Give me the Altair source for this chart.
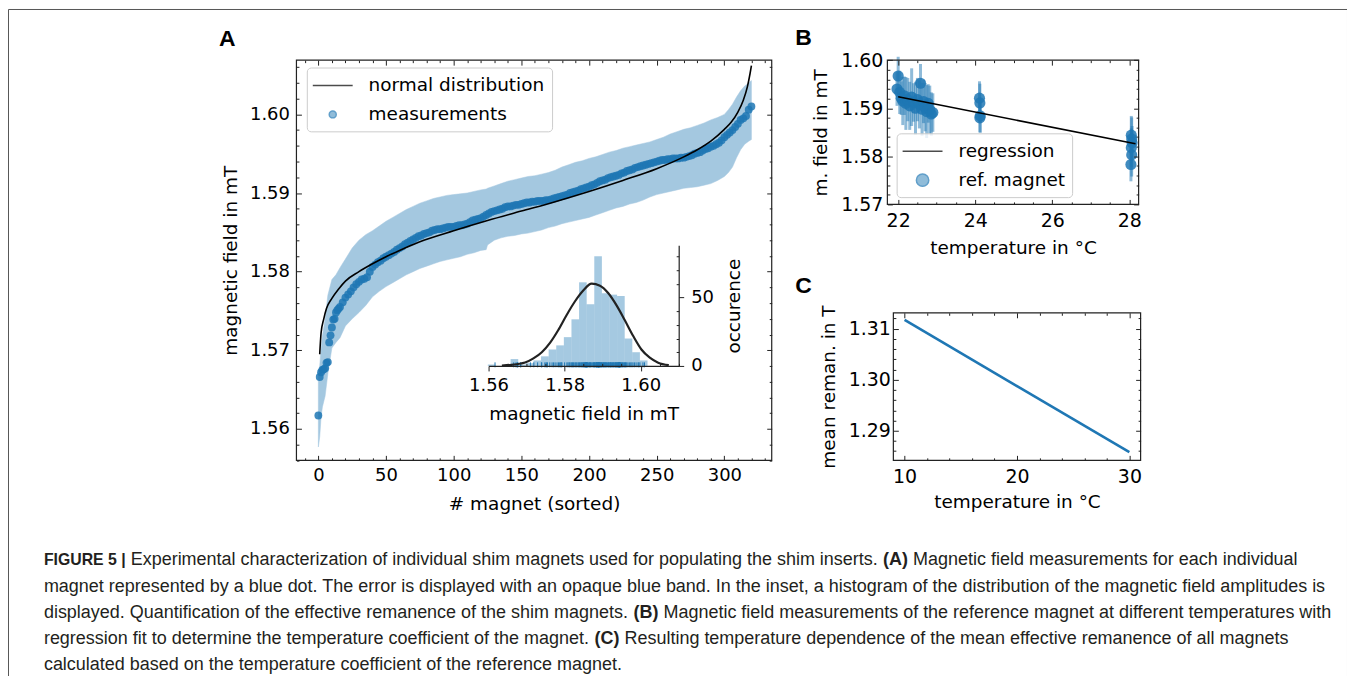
import altair as alt
import pandas as pd

W, H = 1343, 670
BLUE = "#1f77b4"
INK = "#222222"
FONT = "DejaVu Sans"

# ---------------- Panel A: sorted magnet measurements ----------------
a_index = list(range(0, 17)) + list(range(18, 321, 2))
a_field = [1.5617, 1.5666, 1.5672, 1.5675, 1.5676, 1.5677, 1.5684, 1.5685, 1.5710, 1.5719,
           1.5729, 1.5739, 1.5740, 1.5748, 1.5751, 1.5753, 1.5755,
           1.5761, 1.5767, 1.5771, 1.5775, 1.5780, 1.5784, 1.5787, 1.5790, 1.5791, 1.5793,
           1.5800, 1.5806, 1.5809, 1.5812, 1.5814, 1.5817, 1.5819, 1.5821, 1.5823, 1.5825,
           1.5828, 1.5830, 1.5832, 1.5835, 1.5837, 1.5839, 1.5841, 1.5843, 1.5845, 1.5846,
           1.5848, 1.5849, 1.5850, 1.5852, 1.5853, 1.5854, 1.5854, 1.5855, 1.5856, 1.5857,
           1.5857, 1.5857,
           1.5858, 1.5859, 1.5859, 1.5860, 1.5861, 1.5863, 1.5865, 1.5866, 1.5867, 1.5868,
           1.5870, 1.5872, 1.5874, 1.5876, 1.5877, 1.5878, 1.5879, 1.5880, 1.5882, 1.5883,
           1.5883, 1.5884, 1.5885, 1.5885, 1.5886, 1.5887, 1.5888, 1.5888, 1.5889, 1.5889,
           1.5890, 1.5890, 1.5890, 1.5891, 1.5891, 1.5892, 1.5893, 1.5894, 1.5895, 1.5896,
           1.5897, 1.5898, 1.5900, 1.5901, 1.5902, 1.5903, 1.5905, 1.5906, 1.5907, 1.5908,
           1.5910, 1.5911, 1.5913, 1.5915, 1.5916, 1.5917, 1.5919, 1.5920, 1.5921, 1.5922,
           1.5923, 1.5925, 1.5926, 1.5928, 1.5929, 1.5930, 1.5932, 1.5933, 1.5934, 1.5935,
           1.5936, 1.5937, 1.5938, 1.5939, 1.5940, 1.5941, 1.5942, 1.5942, 1.5943, 1.5943,
           1.5944, 1.5944, 1.5944, 1.5945, 1.5945, 1.5946, 1.5947, 1.5948, 1.5950, 1.5951,
           1.5952, 1.5954, 1.5956, 1.5957, 1.5959, 1.5960, 1.5962, 1.5964, 1.5967, 1.5971,
           1.5974, 1.5977, 1.5980, 1.5984, 1.5988, 1.5993, 1.5995, 1.5998, 1.6006, 1.6010]

band_index = [0, 1, 2, 3, 5, 7, 10, 13, 16, 20, 25, 30, 35, 40, 45, 50, 55, 60, 65, 70, 75, 80,
              85, 90, 95, 100, 105, 110, 115, 120, 124, 125, 130, 135, 140, 145, 150, 155, 160,
              165, 170, 175, 180, 185, 190, 195, 200, 205, 210, 215, 220, 225, 230, 235, 240,
              245, 250, 255, 260, 265, 270, 275, 280, 285, 290, 295, 300, 303, 306, 309, 312,
              315, 318, 320]
band_low = [1.5577, 1.5590, 1.5615, 1.5628, 1.5642, 1.5670, 1.5703, 1.5710, 1.5716,
            1.5731, 1.5740, 1.5748, 1.5757, 1.5768, 1.5775, 1.5781, 1.5786, 1.5791, 1.5796,
            1.5800, 1.5804, 1.5807, 1.5810, 1.5813, 1.5815, 1.5817, 1.5819, 1.5822, 1.5824,
            1.5827, 1.5828,
            1.5834, 1.5840, 1.5843, 1.5845, 1.5846, 1.5848, 1.5849, 1.5851, 1.5853, 1.5856,
            1.5858, 1.5861, 1.5863, 1.5865, 1.5867, 1.5869, 1.5872, 1.5875, 1.5878, 1.5881,
            1.5883, 1.5886, 1.5888, 1.5891, 1.5895, 1.5898, 1.5900, 1.5902, 1.5904, 1.5906,
            1.5907, 1.5908, 1.5910, 1.5912, 1.5916, 1.5921,
            1.5926, 1.5933, 1.5945, 1.5955, 1.5962, 1.5966, 1.5968]
band_high = [1.5672, 1.5680, 1.5702, 1.5718, 1.5740, 1.5770, 1.5790, 1.5796, 1.5805,
             1.5816, 1.5830, 1.5840, 1.5847, 1.5852, 1.5858, 1.5864, 1.5869, 1.5874, 1.5879,
             1.5883, 1.5887, 1.5890, 1.5893, 1.5895, 1.5897, 1.5898, 1.5899, 1.5900, 1.5902,
             1.5904, 1.5905,
             1.5906, 1.5909, 1.5912, 1.5915, 1.5917, 1.5919, 1.5921, 1.5922, 1.5924, 1.5926,
             1.5929, 1.5933, 1.5936, 1.5939, 1.5941, 1.5944, 1.5946, 1.5949, 1.5952, 1.5954,
             1.5957, 1.5959, 1.5961, 1.5963, 1.5965, 1.5968, 1.5971, 1.5975, 1.5978, 1.5981,
             1.5983, 1.5986, 1.5989, 1.5993, 1.5996, 1.6000,
             1.6006, 1.6013, 1.6022, 1.6030, 1.6036, 1.6040, 1.6043]

norm_index = [1, 2, 4, 6, 10, 15, 20, 30, 40, 50, 60, 75, 100, 125, 150, 175, 200, 225, 250,
              270, 280, 290, 300, 305, 310, 314, 317, 319, 320]
norm_field = [1.5695, 1.5722, 1.5740, 1.5753, 1.5766, 1.5778, 1.5788, 1.5800, 1.5810, 1.5819,
              1.5827, 1.5838, 1.5852, 1.5865, 1.5877, 1.5889, 1.5902, 1.5916, 1.5931, 1.5946,
              1.5955, 1.5966, 1.5981, 1.5990, 1.6003, 1.6018, 1.6035, 1.6052, 1.6062]

# inset histogram
hist_start = [1.5598, 1.5658, 1.5678, 1.5698, 1.5718, 1.5738, 1.5758, 1.5778, 1.5798, 1.5818,
              1.5838, 1.5858, 1.5878, 1.5898, 1.5918, 1.5938, 1.5958, 1.5978, 1.5998]
hist_count = [1, 5, 1, 2, 4, 7, 12, 15, 21, 34, 61, 45, 80, 53, 52, 51, 20, 10, 4]
HIST_BIN = 0.002
gauss_field = [1.5635, 1.5660, 1.5685, 1.5696, 1.5718, 1.5740, 1.5762, 1.5783, 1.5805, 1.5827,
               1.5849, 1.5871, 1.5893, 1.5915, 1.5937, 1.5958, 1.5980, 1.6002, 1.6024, 1.6046,
               1.6074]
gauss_occ = [0.3, 0.8, 1.8, 2.5, 5.5, 10, 17, 26, 37, 47, 55, 60, 58.5, 53, 44, 33.5, 22, 12,
             6, 2.4, 0.6]

# ---------------- Panel B: reference magnet ----------------
b_temp = [21.97, 22.00, 22.04, 22.08, 22.12, 22.16, 22.20, 22.25, 22.30, 22.35, 22.40, 22.45,
          22.50, 22.55, 22.58, 22.62, 22.66, 22.70, 22.74, 22.78, 22.82, 22.86, 22.90,
          24.11, 24.12, 24.13, 24.12, 28.05, 28.06, 28.07, 28.05, 28.06, 28.04]
b_field = [1.5940, 1.5967, 1.5933, 1.5921, 1.5915, 1.5926, 1.5910, 1.5918, 1.5905, 1.5923,
           1.5912, 1.5900, 1.5918, 1.5908, 1.5952, 1.5898, 1.5914, 1.5902, 1.5893, 1.5910,
           1.5897, 1.5888, 1.5891, 1.5921, 1.5911, 1.5884, 1.5880, 1.5844, 1.5836, 1.5828,
           1.5818, 1.5803, 1.5783]
b_err = [0.0035, 0.0040, 0.0045, 0.0035, 0.0050, 0.0040, 0.0055, 0.0045, 0.0050, 0.0060,
         0.0040, 0.0055, 0.0045, 0.0050, 0.0040, 0.0055, 0.0045, 0.0050, 0.0055, 0.0040,
         0.0050, 0.0045, 0.0040, 0.0035, 0.0040, 0.0035, 0.0030, 0.0040, 0.0045, 0.0035,
         0.0040, 0.0045, 0.0035]
reg_temp = [22.0, 28.16]
reg_field = [1.5924, 1.5826]

# ---------------- Panel C ----------------
c_temp = [10, 30]
c_reman = [1.3117, 1.2858]

# tick labels
a_xticks = [0, 50, 100, 150, 200, 250, 300]
a_yticks = [1.56, 1.57, 1.58, 1.59, 1.60]
i_xticks = [1.56, 1.58, 1.60]
i_yticks = [0, 50]
b_xticks = [22, 24, 26, 28]
b_yticks = [1.57, 1.58, 1.59, 1.60]
c_xticks = [10, 20, 30]
c_yticks = [1.29, 1.30, 1.31]


def minor(lo, hi, step, majors):
    n = int(round((hi - lo) / step))
    vals = [round(lo + i * step, 4) for i in range(n + 1)]
    return [v for v in vals if all(abs(v - m) > step / 10 for m in majors)]


def sc(dom, rng):
    return alt.Scale(domain=dom, range=rng, zero=False, nice=False)


def ax(orient, offset, values, tick, labels=False, fmt=None, fs=18, lpad=5,
       title=None, tfs=18, tpad=5, domain=False, angle=None, tbase=None):
    kw = dict(orient=orient, offset=offset, values=values, tickSize=tick, ticks=True,
              tickColor=INK, tickWidth=1, domain=domain, domainColor=INK, domainWidth=1.2,
              grid=False, labels=labels, zindex=2, labelFlush=False, labelOverlap=False)
    if labels:
        kw.update(format=fmt, labelFont=FONT, labelFontSize=fs, labelColor="black",
                  labelPadding=lpad)
    if title:
        kw.update(title=title, titleFont=FONT, titleFontSize=tfs, titleFontWeight="normal",
                  titleColor="black", titlePadding=tpad)
        if angle is not None:
            kw["titleAngle"] = angle
        if tbase is not None:
            kw["titleBaseline"] = tbase
    else:
        kw["title"] = None
    return alt.Axis(**kw)


def panel_frame(xdom, ydom, xl, xr, yt, yb, xmaj, xmin, ymaj, ymin, xfmt, yfmt,
                xtitle, ytitle, fs, tfs, xlp, ylp, xtp, ytp):
    sx = sc(xdom, [xl, xr])
    sy = sc(ydom, [yb, yt])
    df = pd.DataFrame({"x0": [xdom[0]], "x1": [xdom[1]], "y0": [ydom[0]], "y1": [ydom[1]]})
    T, t = 5, 2.5
    frame = alt.Chart(df).mark_rect(fillOpacity=0, stroke=INK, strokeWidth=1.2).encode(
        x=alt.X("x0:Q", scale=sx, axis=ax("bottom", (yb - T) - H, xmaj, T, True, xfmt, fs,
                                          xlp, xtitle, tfs, xtp)),
        x2="x1:Q",
        y=alt.Y("y0:Q", scale=sy, axis=ax("left", -(xl + T), ymaj, T, True, yfmt, fs,
                                          ylp, ytitle, tfs, ytp)),
        y2="y1:Q")
    l2 = alt.Chart(df).mark_point(opacity=0).encode(
        x=alt.X("x0:Q", scale=sx, axis=ax("top", -(yt + T), xmaj, T)),
        y=alt.Y("y0:Q", scale=sy, axis=ax("right", (xr - T) - W, ymaj, T)))
    l3 = alt.Chart(df).mark_point(opacity=0).encode(
        x=alt.X("x0:Q", scale=sx, axis=ax("bottom", (yb - t) - H, xmin, t)),
        y=alt.Y("y0:Q", scale=sy, axis=ax("left", -(xl + t), ymin, t)))
    l4 = alt.Chart(df).mark_point(opacity=0).encode(
        x=alt.X("x0:Q", scale=sx, axis=ax("top", -(yt + t), xmin, t)),
        y=alt.Y("y0:Q", scale=sy, axis=ax("right", (xr - t) - W, ymin, t)))
    return sx, sy, [frame, l2, l3, l4]


# ---------- geometry (chart coordinates) ----------
A_X = [-16.2, 335.0]
A_Y = [1.5560, 1.6069]
A_xl, A_xr, A_yt, A_yb = 289.3, 766.0, 51.3, 452.7
sxA, syA, frameA = panel_frame(A_X, A_Y, A_xl, A_xr, A_yt, A_yb, a_xticks,
                               minor(-10, 330, 10, a_xticks), a_yticks,
                               minor(1.556, 1.606, 0.002, a_yticks), "d", ".2f",
                               "# magnet (sorted)", "magnetic field in mT",
                               18, 18.5, 6, 7, 10, 9)

bandA = alt.Chart(pd.DataFrame({"i": band_index, "lo": band_low, "hi": band_high})).mark_area(
    color=BLUE, opacity=0.4, stroke=BLUE, strokeWidth=1, strokeOpacity=0.5).encode(
    x=alt.X("i:Q", scale=sxA, axis=None),
    y=alt.Y("lo:Q", scale=syA, axis=None), y2="hi:Q")
ptsA = alt.Chart(pd.DataFrame({"i": a_index, "v": a_field})).mark_circle(
    color=BLUE, opacity=0.85, size=62).encode(
    x=alt.X("i:Q", scale=sxA, axis=None), y=alt.Y("v:Q", scale=syA, axis=None))
normA = alt.Chart(pd.DataFrame({"i": norm_index, "v": norm_field})).mark_line(
    color="black", strokeWidth=1.6, interpolate="monotone").encode(
    x=alt.X("i:Q", scale=sxA, axis=None), y=alt.Y("v:Q", scale=syA, axis=None))

# inset
I_X = [1.56, 1.61]
I_Y = [0, 88]
I_xl, I_xr, I_yt, I_yb = 482.0, 672.7, 237.0, 358.0
sxI = sc(I_X, [I_xl, I_xr])
syI = sc(I_Y, [I_yb, I_yt])
histI = alt.Chart(pd.DataFrame({"s": hist_start, "c": hist_count})).transform_calculate(
    e="datum.s + %f" % HIST_BIN).mark_rect(color=BLUE, opacity=0.4).encode(
    x=alt.X("s:Q", scale=sxI, axis=None), x2="e:Q",
    y=alt.Y("c:Q", scale=syI, axis=None), y2=alt.Y2(datum=0))
rugI = alt.Chart(pd.DataFrame({"v": a_field})).transform_calculate(
    r0="-1", r1="2.6").mark_rule(color=BLUE, strokeWidth=1).encode(
    x=alt.X("v:Q", scale=sxI, axis=None),
    y=alt.Y("r0:Q", scale=syI, axis=None), y2="r1:Q")
gaussI = alt.Chart(pd.DataFrame({"x": gauss_field, "y": gauss_occ})).mark_line(
    color=INK, strokeWidth=2.2, interpolate="monotone").encode(
    x=alt.X("x:Q", scale=sxI, axis=None), y=alt.Y("y:Q", scale=syI, axis=None))
dI = pd.DataFrame({"x": [1.56], "y": [0]})
inset_ax1 = alt.Chart(dI).mark_point(opacity=0).encode(
    x=alt.X("x:Q", scale=sxI, axis=ax("bottom", I_yb - H, i_xticks, 5, True, ".2f", 18, 6,
                                      "magnetic field in mT", 18.5, 10, domain=True)),
    y=alt.Y("y:Q", scale=syI, axis=ax("right", I_xr - W, i_yticks, 5, True, "d", 18, 7,
                                      "occurence", 18.5, 11, domain=True, angle=270,
                                      tbase="top")))
inset_ax2 = alt.Chart(dI).mark_point(opacity=0).encode(
    x=alt.X("x:Q", scale=sxI, axis=ax("bottom", (I_yb - 2.5) - H,
                                      minor(1.56, 1.61, 0.005, i_xticks), 2.5)),
    y=alt.Y("y:Q", scale=syI, axis=ax("right", (I_xr - 2.5) - W,
                                      minor(0, 80, 10, i_yticks), 2.5)))

# ---------- Panel B ----------
B_X = [21.72, 28.24]
B_Y = [1.57, 1.60]
B_xl, B_xr, B_yt, B_yb = 882.0, 1134.0, 51.3, 196.0
sxB, syB, frameB = panel_frame(B_X, B_Y, B_xl, B_xr, B_yt, B_yb, b_xticks,
                               minor(21.5, 28.5, 0.5, b_xticks), b_yticks,
                               minor(1.57, 1.60, 0.002, b_yticks), "d", ".2f",
                               "temperature in °C", "m. field in mT",
                               19, 18.5, 7, 4.5, 8, 10)
dfB = pd.DataFrame({"t": b_temp, "v": b_field, "e": b_err})
errB = alt.Chart(dfB).transform_calculate(
    lo="datum.v - datum.e", hi="datum.v + datum.e").mark_rule(
    color=BLUE, opacity=0.5, strokeWidth=3).encode(
    x=alt.X("t:Q", scale=sxB, axis=None),
    y=alt.Y("lo:Q", scale=syB, axis=None), y2="hi:Q")
ptsB = alt.Chart(dfB).mark_circle(color=BLUE, opacity=0.85, size=125).encode(
    x=alt.X("t:Q", scale=sxB, axis=None), y=alt.Y("v:Q", scale=syB, axis=None))
regB = alt.Chart(pd.DataFrame({"t": reg_temp, "v": reg_field})).mark_line(
    color="black", strokeWidth=1.6).encode(
    x=alt.X("t:Q", scale=sxB, axis=None), y=alt.Y("v:Q", scale=syB, axis=None))

# ---------- Panel C ----------
C_X = [9.0, 31.0]
C_Y = [1.2842, 1.3131]
C_xl, C_xr, C_yt, C_yb = 888.0, 1136.0, 304.7, 452.7
sxC, syC, frameC = panel_frame(C_X, C_Y, C_xl, C_xr, C_yt, C_yb, c_xticks,
                               minor(8, 32, 2, c_xticks), c_yticks,
                               minor(1.284, 1.314, 0.002, c_yticks), "d", ".2f",
                               "temperature in °C", "mean reman. in T",
                               19, 18.5, 7, 3, 6, 10)
lineC = alt.Chart(pd.DataFrame({"t": c_temp, "r": c_reman})).mark_line(
    color=BLUE, strokeWidth=2.6).encode(
    x=alt.X("t:Q", scale=sxC, axis=None), y=alt.Y("r:Q", scale=syC, axis=None))

# ---------- legends ----------
LINE_PATH = "M-2,0L2,0"


def circ(r):
    return "M-{0},0A{0},{0},0,1,1,{0},0A{0},{0},0,1,1,-{0},0Z".format(r)


def legend_layer(names, colors, paths, lx, ly, fill):
    lg = alt.Legend(orient="none", legendX=lx, legendY=ly, title=None, fillColor=fill,
                    strokeColor="#cccccc", cornerRadius=4, padding=7, labelFont=FONT,
                    labelFontSize=18.5, labelColor="black", labelLimit=400, symbolSize=400,
                    symbolStrokeWidth=1.5, rowPadding=8, labelOffset=25, symbolOffset=8)
    return alt.Chart(pd.DataFrame({"s": names})).mark_point(filled=True, size=400).encode(
        x=alt.value(-60), y=alt.value(-60),
        shape=alt.Shape("s:N", scale=alt.Scale(domain=names, range=paths), legend=lg),
        fill=alt.Fill("s:N", scale=alt.Scale(domain=names, range=colors), legend=lg),
        stroke=alt.Stroke("s:N", scale=alt.Scale(domain=names, range=colors), legend=lg))


legA = legend_layer(["normal distribution", "measurements"], ["black", BLUE],
                    [LINE_PATH, circ(0.35)], 299.7, 58.7, "white")
legB = legend_layer(["regression", "ref. magnet"], ["black", BLUE],
                    [LINE_PATH, circ(0.62)], 891.3, 124.7, "rgba(255,255,255,0.8)")

# ---------- panel letters ----------
letters = alt.Chart(pd.DataFrame({"t": ["A", "B", "C"], "px": [220, 798, 798],
                                  "py": [30, 29.5, 278]})).mark_text(
    font="Liberation Sans", fontWeight="bold", fontSize=23, color="black",
    align="center", baseline="middle").encode(
    x=alt.X("px:Q", scale=None, axis=None), y=alt.Y("py:Q", scale=None, axis=None),
    text="t:N")

# ---------- caption ----------
AR = {' ': 278, '.': 278, ',': 278, '(': 333, ')': 333, '|': 260, '-': 333, '5': 556,
      'A': 667, 'B': 667, 'C': 722, 'D': 722, 'E': 667, 'F': 611, 'G': 778, 'H': 722,
      'I': 278, 'J': 500, 'K': 667, 'L': 556, 'M': 833, 'N': 722, 'O': 778, 'P': 667,
      'Q': 778, 'R': 722, 'S': 667, 'T': 611, 'U': 722, 'V': 667, 'W': 944, 'X': 667,
      'Y': 667, 'Z': 611, 'a': 556, 'b': 556, 'c': 500, 'd': 556, 'e': 556, 'f': 278,
      'g': 556, 'h': 556, 'i': 222, 'j': 222, 'k': 500, 'l': 222, 'm': 833, 'n': 556,
      'o': 556, 'p': 556, 'q': 556, 'r': 333, 's': 500, 't': 278, 'u': 556, 'v': 500,
      'w': 722, 'x': 500, 'y': 500, 'z': 500}
ARB = dict(AR)
ARB.update({'A': 722, 'B': 722, 'C': 722, 'E': 667, 'F': 611, 'G': 778, 'I': 278,
            'R': 722, 'U': 722, '|': 280})


def tw(s, bold=False):
    tab = ARB if bold else AR
    return sum(tab.get(c, 556) for c in s) / 1000.0


# (text, bold, relative size)
cap_lines = [
    [("FIGURE 5 |", True, 0.88),
     (" Experimental characterization of individual shim magnets used for populating the shim inserts. ", False, 1.0),
     ("(A)", True, 1.0), (" Magnetic field measurements for each individual", False, 1.0)],
    [("magnet represented by a blue dot. The error is displayed with an opaque blue band. In the inset, a histogram of the distribution of the magnetic field amplitudes is", False, 1.0)],
    [("displayed. Quantification of the effective remanence of the shim magnets. ", False, 1.0),
     ("(B)", True, 1.0),
     (" Magnetic field measurements of the reference magnet at different temperatures with", False, 1.0)],
    [("regression fit to determine the temperature coefficient of the magnet. ", False, 1.0),
     ("(C)", True, 1.0),
     (" Resulting temperature dependence of the mean effective remanence of all magnets", False, 1.0)],
    [("calculated based on the temperature coefficient of the reference magnet.", False, 1.0)],
]
CAP_X = 36.0
CAP_Y = [553, 580, 606, 632, 658]
CAP_W2 = 1286.0
CAP_FS = CAP_W2 / tw(cap_lines[1][0][0])
rows = []
for li, segs in enumerate(cap_lines):
    x = CAP_X
    for s, b, rel in segs:
        fs = CAP_FS * rel
        lead = len(s) - len(s.lstrip(" "))
        rows.append({"t": s.strip(), "px": x + tw(" " * lead) * fs, "py": CAP_Y[li],
                     "b": b, "fs": fs})
        x += tw(s, b) * fs
cap_df = pd.DataFrame(rows)


def cap_layer(bold, small):
    sub = cap_df[(cap_df["b"] == bold) & ((cap_df["fs"] < CAP_FS - 0.01) == small)]
    return alt.Chart(sub).mark_text(
        font="Liberation Sans", fontSize=float(sub["fs"].iloc[0]),
        fontWeight="bold" if bold else "normal",
        color="#231f20", align="left", baseline="middle").encode(
        x=alt.X("px:Q", scale=None, axis=None), y=alt.Y("py:Q", scale=None, axis=None),
        text="t:N")


layers = ([bandA, ptsA, normA, histI, rugI, gaussI] + frameA + [inset_ax1, inset_ax2] +
          [errB, ptsB, regB] + frameB + [lineC] + frameC +
          [legA, legB, letters, cap_layer(False, False), cap_layer(True, False),
           cap_layer(True, True)])

chart = alt.layer(*layers).resolve_scale(
    x="independent", y="independent", shape="independent", fill="independent",
    stroke="independent").resolve_axis(x="independent", y="independent").properties(
    width=W, height=H, autosize=alt.AutoSizeParams(type="none"), padding=0
).configure_view(stroke="#555555", strokeWidth=1)

chart.save("out.html", embed_options={"renderer": "svg", "actions": False})
